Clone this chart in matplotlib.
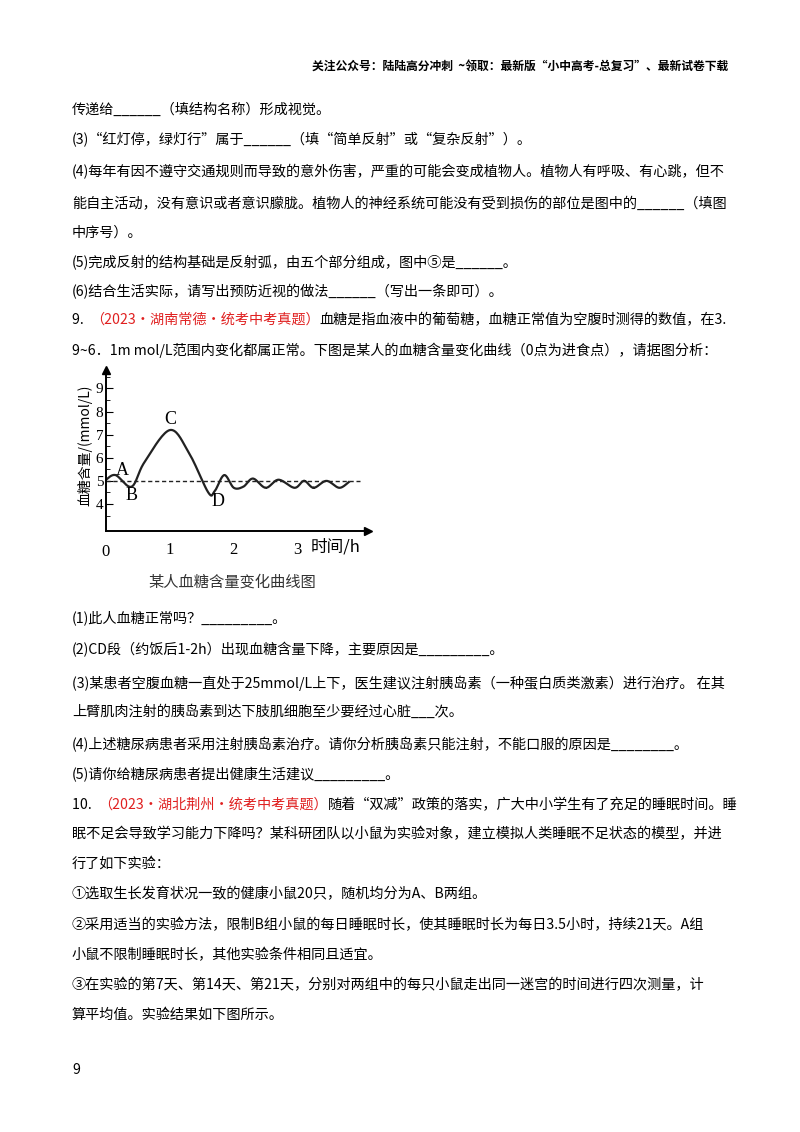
import numpy as np
import matplotlib.pyplot as plt

plt.rcParams['font.family'] = ['Noto Sans CJK SC', 'DejaVu Sans']

# curve (hours, mmol/L)
hours = [0, 0.15, 0.4, 0.6, 1.0, 1.3, 1.6, 1.7, 1.85, 2.0, 2.15, 2.3, 2.5,
         2.7, 2.95, 3.1, 3.25, 3.45, 3.65, 3.8]
sugar = [5.05, 5.25, 4.75, 5.8, 7.2, 6.2, 4.5, 4.55, 5.25, 4.7, 4.75, 5.1, 4.7,
         5.05, 4.7, 5.0, 4.7, 5.0, 4.7, 4.95]
x_ticks = [1, 2, 3]
y_ticks = [4, 5, 6, 7, 8, 9]
normal_level = 5

W, H = 800, 1132
fig = plt.figure(figsize=(8, 11.32), dpi=100)
FS = 10.2


def line(y, segs, x=72, size=FS, weight='normal'):
    r = fig.canvas.get_renderer()
    for s in segs:
        if isinstance(s, str):
            s = (s, 'black')
        t = fig.text(x / W, 1 - y / H, s[0], color=s[1], fontsize=size,
                     va='center', ha='left', weight=weight)
        x += t.get_window_extent(r).width


fig.text(728 / W, 1 - 66 / H, '关注公众号：陆陆高分冲刺  ~领取：最新版“小中高考-总复习”、最新试卷下载',
         ha='right', va='center', fontsize=8.5, weight='bold')

RED = '#e02020'
rows = [
    (110, ['传递给______（填结构名称）形成视觉。']),
    (140, ['(3)“红灯停，绿灯行”属于______（填“简单反射”或“复杂反射”）。']),
    (172, ['(4)每年有因不遵守交通规则而导致的意外伤害，严重的可能会变成植物人。植物人有呼吸、有心跳，但不']),
    (204, ['能自主活动，没有意识或者意识朦胧。植物人的神经系统可能没有受到损伤的部位是图中的______（填图']),
    (233, ['中序号）。']),
    (263, ['(5)完成反射的结构基础是反射弧，由五个部分组成，图中⑤是______。']),
    (292, ['(6)结合生活实际，请写出预防近视的做法______（写出一条即可）。']),
    (320, ['9.  ', ('（2023·湖南常德·统考中考真题）', RED), '血糖是指血液中的葡萄糖，血糖正常值为空腹时测得的数值，在3.']),
    (350, ['9~6．1m mol/L范围内变化都属正常。下图是某人的血糖含量变化曲线（0点为进食点），请据图分析：']),
    (618, ['(1)此人血糖正常吗？_________。']),
    (650, ['(2)CD段（约饭后1-2h）出现血糖含量下降，主要原因是_________。']),
    (683, ['(3)某患者空腹血糖一直处于25mmol/L上下，医生建议注射胰岛素（一种蛋白质类激素）进行治疗。 在其']),
    (712, ['上臂肌肉注射的胰岛素到达下肢肌细胞至少要经过心脏___次。']),
    (745, ['(4)上述糖尿病患者采用注射胰岛素治疗。请你分析胰岛素只能注射，不能口服的原因是________。']),
    (775, ['(5)请你给糖尿病患者提出健康生活建议_________。']),
    (805, ['10.  ', ('（2023·湖北荆州·统考中考真题）', RED), '随着“双减”政策的落实，广大中小学生有了充足的睡眠时间。睡']),
    (834, ['眠不足会导致学习能力下降吗？某科研团队以小鼠为实验对象，建立模拟人类睡眠不足状态的模型，并进']),
    (864, ['行了如下实验：']),
    (894, ['①选取生长发育状况一致的健康小鼠20只，随机均分为A、B两组。']),
    (925, ['②采用适当的实验方法，限制B组小鼠的每日睡眠时长，使其睡眠时长为每日3.5小时，持续21天。A组']),
    (955, ['小鼠不限制睡眠时长，其他实验条件相同且适宜。']),
    (985, ['③在实验的第7天、第14天、第21天，分别对两组中的每只小鼠走出同一迷宫的时间进行四次测量，计']),
    (1015, ['算平均值。实验结果如下图所示。']),
]
for y, segs in rows:
    line(y, segs)
fig.text(72 / W, 1 - 1070 / H, '9', fontsize=FS, va='center')

# chart axes: x 0..4.1 -> px 106..368, y 2.83..9.8 -> px 531..370
x0, x1, yb, yt = 106, 368, 531, 370
ax = fig.add_axes([x0 / W, 1 - yb / H, (x1 - x0) / W, (yb - yt) / H])
ax.set_xlim(0, 4.1)
ax.set_ylim(2.83, 9.8)


def catmull(xs, ys, n=20):
    p = np.column_stack([xs, ys])
    p = np.vstack([p[0], p, p[-1]])
    out = []
    for i in range(1, len(p) - 2):
        t = np.linspace(0, 1, n)[:, None]
        a, b, c, d = p[i - 1], p[i], p[i + 1], p[i + 2]
        out.append(0.5 * (2 * b + (-a + c) * t + (2 * a - 5 * b + 4 * c - d) * t ** 2
                          + (-a + 3 * b - 3 * c + d) * t ** 3))
    return np.vstack(out)


c = catmull(hours, sugar)
ax.plot(c[:, 0], c[:, 1], color='#222', lw=1.6)
ax.axhline(normal_level, xmin=0, xmax=0.97, color='#222', ls=(0, (3, 2)), lw=1)
for s in ['top', 'right']:
    ax.spines[s].set_visible(False)
ax.spines['left'].set_linewidth(1.4)
ax.spines['bottom'].set_linewidth(1.4)
ax.plot(1, 0, '>k', transform=ax.transAxes, clip_on=False, ms=6)
ax.plot(0, 1, '^k', transform=ax.transAxes, clip_on=False, ms=6)
ax.set_xticks(x_ticks)
ax.set_yticks(y_ticks)
ax.set_yticks(np.arange(3.5, 9.6, 0.5), minor=True)
ax.tick_params(direction='in', length=5, labelsize=11, pad=2)
ax.tick_params(which='minor', direction='in', length=3)
ax.tick_params(axis='x', length=0, pad=8, labelsize=12)
for t in ax.get_xticklabels() + ax.get_yticklabels():
    t.set_family('Liberation Serif')
ax.text(0, -0.08, '0', transform=ax.transAxes, ha='center', va='top',
        fontsize=12, family='Liberation Serif')
ax.text(3.2, 2.5, '时间/h', fontsize=12, va='top')
fig.text(85 / W, 1 - 445 / H, '血糖含量/(mmol/L)', rotation=90, ha='center', va='center',
         fontsize=10)
for lab, lx, ly in [('A', 0.25, 5.45), ('B', 0.4, 4.35), ('C', 1.0, 7.65), ('D', 1.75, 4.1)]:
    ax.text(lx, ly, lab, fontsize=13, ha='center', va='center', family='Liberation Serif')
fig.text(232 / W, 1 - 582 / H, '某人血糖含量变化曲线图', ha='center', va='center',
         fontsize=11, color='#333')

fig.savefig('out.png', dpi=100)
